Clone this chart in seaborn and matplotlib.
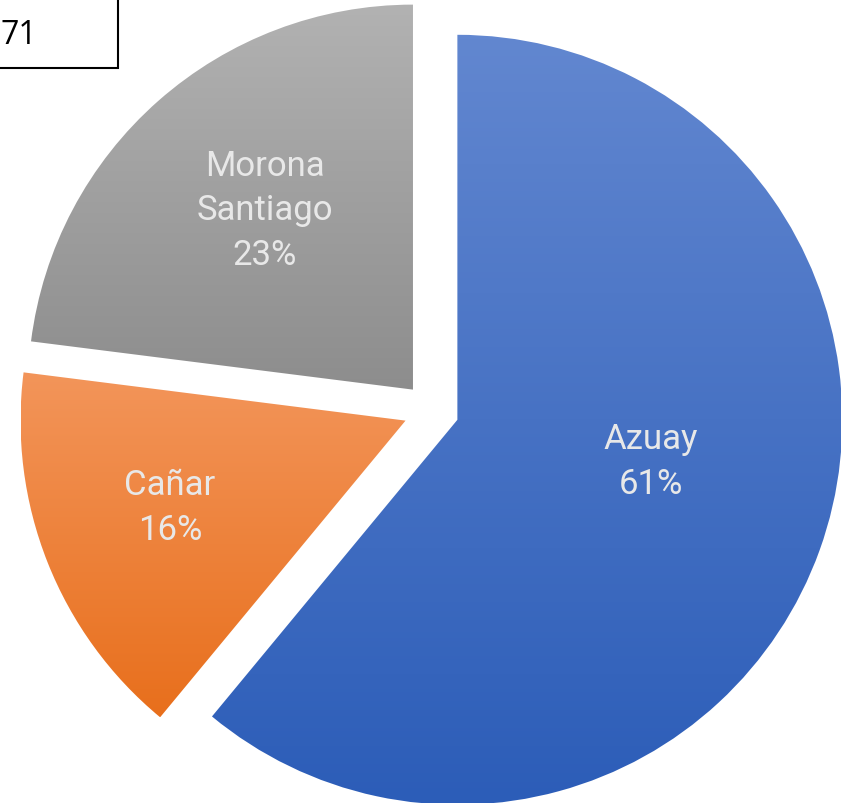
import numpy as np
import matplotlib
matplotlib.use("Agg")
import matplotlib.pyplot as plt
import seaborn as sns
from matplotlib.colors import LinearSegmentedColormap
from matplotlib.patches import Rectangle

sns.set_theme(style="white")
plt.rcParams['font.family'] = ['Roboto', 'DejaVu Sans']

# data
provinces = ["Azuay", "Cañar", "Morona\nSantiago"]
shares = [61, 16, 23]
title_text = "71"

# styling
grad_top = ["#6287D0", "#F3955A", "#B2B2B2"]
grad_bottom = ["#2C5DB8", "#E86F1C", "#8D8D8D"]
label_pos = [(0.571, -0.132), (-0.679, -0.251), (-0.432, 0.521)]
label_color = "#E8E8E8"

W, H = 841, 804
fig = plt.figure(figsize=(W / 100, H / 100), dpi=100)
ax = fig.add_axes([0, 0, 1, 1])

wedges, texts = ax.pie(
    shares,
    labels=[f"{p}\n{s}%" for p, s in zip(provinces, shares)],
    startangle=90,
    counterclock=False,
    explode=[0.072] * len(shares),
    radius=1.0,
    labeldistance=0.55,
    wedgeprops=dict(linewidth=0, edgecolor="none"),
)

ax.set_xlim(-1.1203, 1.0642)
ax.set_ylim(-1.0197, 1.0686)
ax.set_aspect("equal")
ax.axis("off")

grad = np.linspace(1, 0, 256).reshape(-1, 1)
renderer = fig.canvas.get_renderer()
inv = ax.transData.inverted()
for w, ct, cb in zip(wedges, grad_top, grad_bottom):
    w.set_facecolor("none")
    cmap = LinearSegmentedColormap.from_list("g", [cb, ct])
    bb = w.get_window_extent(renderer=renderer)
    (x0, y0), (x1, y1) = inv.transform([[bb.x0, bb.y0], [bb.x1, bb.y1]])
    im = ax.imshow(grad, cmap=cmap, extent=[x0, x1, y0, y1], aspect="auto",
                   origin="upper", zorder=w.get_zorder(), interpolation="bilinear")
    im.set_clip_path(w)

ax.set_xlim(-1.1203, 1.0642)
ax.set_ylim(-1.0197, 1.0686)

for t, pos in zip(texts, label_pos):
    t.set_position(pos)
    t.set_ha("center")
    t.set_va("center")
    t.set_multialignment("center")
    t.set_fontsize(25)
    t.set_color(label_color)
    t.set_linespacing(1.45)
    t.set_zorder(5)

# cropped title box in the top-left
fig.patches.append(Rectangle((-0.1, 1 - 69 / H), 0.1 + 118 / W, 0.2,
                             transform=fig.transFigure, facecolor="white",
                             edgecolor="black", linewidth=1.5, zorder=10))
fig.text(1 / W, 1 - 36 / H, title_text, ha="left", va="center",
         fontsize=23, color="black", family=["Open Sans", "DejaVu Sans"], zorder=11)

fig.savefig("out.png", dpi=100)
